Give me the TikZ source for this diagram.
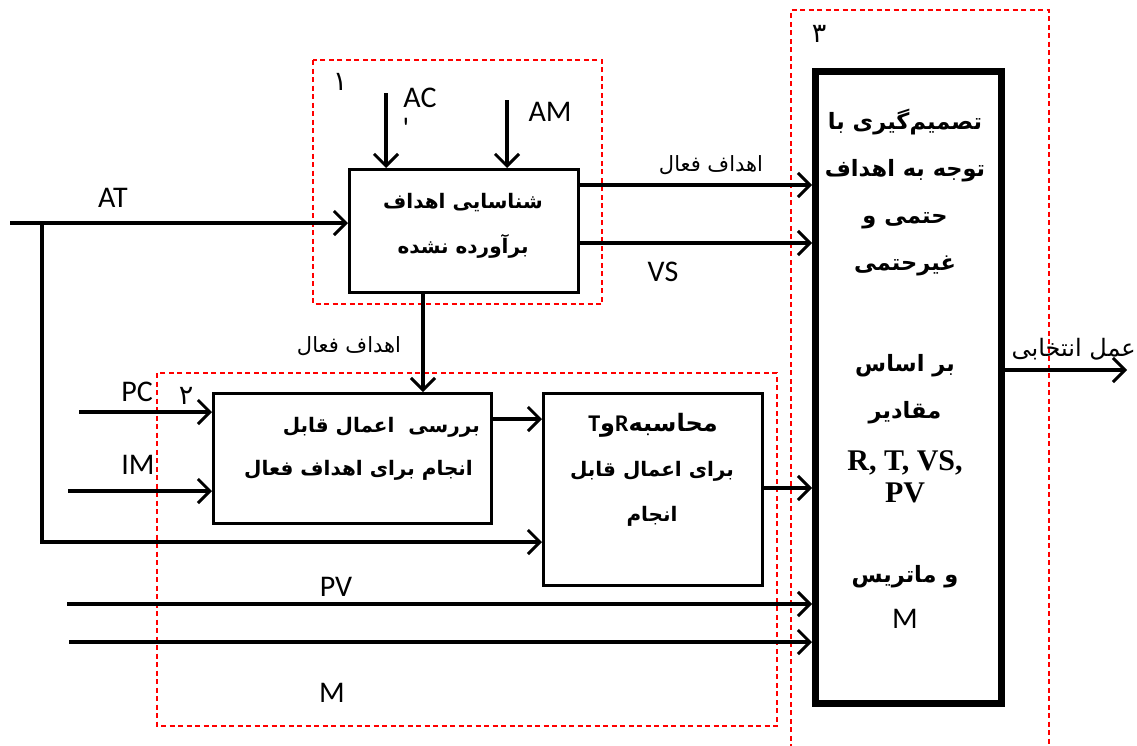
\documentclass[tikz,border=0pt]{standalone}
\usepackage{fontspec}
\setmainfont{Carlito}
\newfontfamily\arfont[Script=Arabic]{DejaVu Sans}
\newfontfamily\arbfont[Script=Arabic]{DejaVu Sans Bold}
\newfontfamily\serb{Liberation Serif}
\TeXXeTstate=1
\usetikzlibrary{arrows.meta}
\begin{document}
\begin{tikzpicture}[x=1pt,y=-1pt,
  conn/.style={line width=3.3pt},
  arr/.style={conn,-{Straight Barb[length=12pt,width=24pt,line width=3pt]}},
  box/.style={draw,line width=2.7pt,inner sep=0pt,anchor=north west},
  bigbox/.style={draw,line width=7pt,inner sep=0pt,anchor=north west},
  zone/.style={draw=red,dashed,line width=1.5pt,dash pattern=on 5pt off 3.5pt},
  lab/.style={font=\fontsize{30}{32}\selectfont,inner sep=0pt},
  arl/.style={font=\arfont\fontsize{21}{24}\selectfont,inner sep=0pt},
  arb/.style={font=\arbfont\fontsize{20}{45}\selectfont,align=center,inner sep=0pt},
  arbm/.style={font=\arbfont\fontsize{22.5}{47}\selectfont,align=center,inner sep=0pt},
  num/.style={font=\arfont\fontsize{27}{30}\selectfont,inner sep=0pt}]
\useasboundingbox (0,0) rectangle (1137,745);
% zones
\draw[zone] (313,60) rectangle (602,304);
\draw[zone] (157,373) rectangle (777,726);
\draw[zone] (791,800) -- (791,10) -- (1049,10) -- (1049,800);
\node[num] (n1) at (340,82) {۱};
\node[num] (n2) at (186,396) {۲};
\node[num] (n3) at (819,34) {۳};
% boxes
\node[box,minimum width=229pt,minimum height=123pt] (b1) at (348,168) {};
\node[box,minimum width=278pt,minimum height=130pt] (b2) at (212,392) {};
\node[box,minimum width=219pt,minimum height=192pt] (b3) at (542,392) {};
\node[bigbox,minimum width=186pt,minimum height=632pt] (bm) at (812,68) {};
% box texts
\node[arb] (t1) at (463,226) {\beginR شناسایی اهداف\endR\\\beginR برآورده نشده\endR};
\node[arb,anchor=east] (t2a) at (480,427) {\beginR بررسی\ \ اعمال قابل\endR};
\node[arb,anchor=east] (t2b) at (473,470) {\beginR انجام برای اهداف فعال\endR};
\node[inner sep=0pt] (t3a) at (653,425) {\fontsize{24}{28}\selectfont\bfseries T{\arbfont و}R{\arbfont\beginR محاسبه\endR}};
\node[arb] (t3b) at (652,494) {\beginR برای اعمال قابل\endR\\\beginR انجام\endR};
\node[arbm] (tm1) at (905,193) {\beginR تصمیم‌گیری با\endR\\\beginR توجه به اهداف\endR\\\beginR حتمی و\endR\\\beginR غیرحتمی\endR};
\node[arbm] (tm2) at (905,389) {\beginR بر اساس\endR\\\beginR مقادیر\endR};
\node[font=\serb\bfseries\fontsize{30}{34}\selectfont,align=center,inner sep=0pt] (tm3) at (905,477) {R, T, VS,\\[-2pt]PV};
\node[arbm] (tm4) at (905,577) {\beginR و ماتریس\endR};
\node[lab] (tm5) at (905,619) {M};
% free ends
\coordinate (acS) at (386,93);
\coordinate (amS) at (507,100);
\coordinate (atS) at (10,223);
\coordinate (atJ) at (42,223);
\coordinate (atB) at (42,542);
\coordinate (pcS) at (79,412);
\coordinate (imS) at (68,491);
\coordinate (pvS) at (67,604);
\coordinate (mS) at (69,642);
\coordinate (o1) at (577,185);
\coordinate (o2) at (577,243);
\coordinate (d1) at (423,291);
\coordinate (c23) at (490,419);
\coordinate (c3m) at (761,488);
\coordinate (outE) at (1127,370);
% connectors
\draw[arr] (acS) -- (acS |- b1.north);
\draw[arr] (amS) -- (amS |- b1.north);
\draw[arr] (atS) -- (atS -| b1.west);
\draw[arr] (atJ) -- (atB) -- (atB -| b3.west);
\draw[arr] (o1) -- (o1 -| bm.west);
\draw[arr] (o2) -- (o2 -| bm.west);
\draw[arr] (d1) -- (d1 |- b2.north);
\draw[arr] (pcS) -- (pcS -| b2.west);
\draw[arr] (imS) -- (imS -| b2.west);
\draw[arr] (c23) -- (c23 -| b3.west);
\draw[arr] (c3m) -- (c3m -| bm.west);
\draw[arr] (pvS) -- (pvS -| bm.west);
\draw[arr] (mS) -- (mS -| bm.west);
\draw[arr] (bm.east |- outE) -- (outE);
% labels
\node[lab] (lac) at (420,98) {AC};
\node[lab] (lacq) at (406,128) {\textquotesingle};
\node[lab] (lam) at (550,112) {AM};
\node[lab] (lat) at (113,198) {AT};
\node[lab] (lpc) at (137,392) {PC};
\node[lab] (lim) at (138,465) {IM};
\node[lab] (lvs) at (663,272) {VS};
\node[lab] (lpv) at (336,587) {PV};
\node[lab] (lmm) at (332,693) {M};
\node[arl] (lf1) at (711,165) {\beginR اهداف فعال\endR};
\node[arl] (lf2) at (349,346) {\beginR اهداف فعال\endR};
\node[arl,anchor=east,font=\arfont\fontsize{24}{26}\selectfont] (lout) at (1136,349) {\beginR عمل انتخابی\endR};
\end{tikzpicture}
\end{document}
